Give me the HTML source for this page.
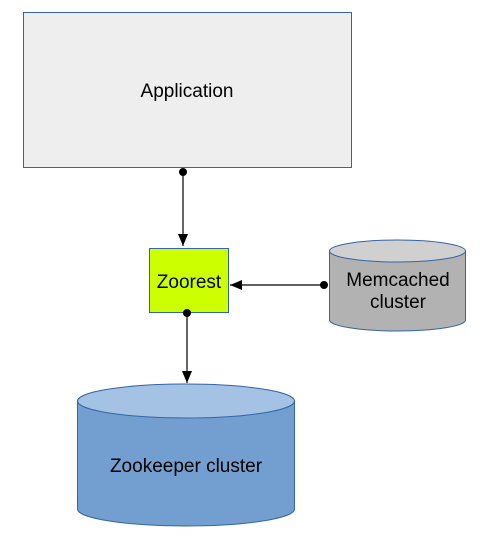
<!DOCTYPE html>
<html><head><meta charset="utf-8"><style>
html,body{margin:0;padding:0;background:#fff;}
</style></head><body>
<svg width="489" height="547" viewBox="0 0 489 547" xmlns="http://www.w3.org/2000/svg" font-family="Liberation Sans, sans-serif">
<defs>
<marker id="a" markerWidth="14" markerHeight="12" refX="12" refY="5" orient="auto" markerUnits="userSpaceOnUse"><path d="M0,0 L12,5 L0,10 z" fill="#000"/></marker>
</defs>
<rect x="23.5" y="12.5" width="328" height="155" fill="#eeeeee" stroke="#3465a4"/>
<text x="187" y="97" font-size="19" text-anchor="middle">Application</text>
<line x1="183" y1="172" x2="183" y2="246" stroke="#000" stroke-width="1.2" marker-end="url(#a)"/>
<circle cx="183" cy="172" r="4" fill="#000"/>
<rect x="149.5" y="248.5" width="79" height="64" fill="#ccff00" stroke="#3465a4"/>
<text x="189" y="288" font-size="19" text-anchor="middle">Zoorest</text>
<path d="M329.5,251 L329.5,320 A68,11 0 0 0 465.5,320 L465.5,251" fill="#b2b2b2" stroke="#3465a4"/>
<ellipse cx="397.5" cy="251" rx="68" ry="11" fill="#d0d0d0" stroke="#3465a4"/>
<text x="398" y="286" font-size="19" text-anchor="middle">Memcached</text>
<text x="398" y="308" font-size="19" text-anchor="middle">cluster</text>
<line x1="324" y1="285" x2="230" y2="285" stroke="#000" stroke-width="1.2" marker-end="url(#a)"/>
<circle cx="324" cy="285" r="4" fill="#000"/>
<line x1="187" y1="313" x2="187" y2="383" stroke="#000" stroke-width="1.2" marker-end="url(#a)"/>
<circle cx="187" cy="313" r="4" fill="#000"/>
<path d="M77.5,401 L77.5,509 A108.5,17 0 0 0 294.5,509 L294.5,401" fill="#729fcf" stroke="#3465a4"/>
<ellipse cx="186" cy="401" rx="108.5" ry="17" fill="#a4c2e3" stroke="#3465a4"/>
<text x="186" y="472" font-size="19" text-anchor="middle">Zookeeper cluster</text>
</svg>
</body></html>
